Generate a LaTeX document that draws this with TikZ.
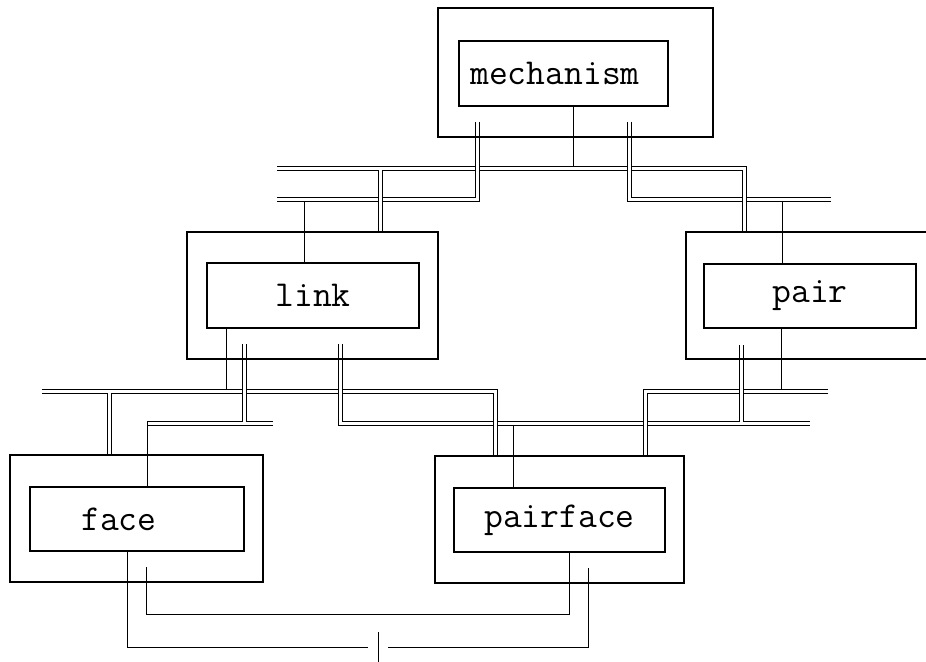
\documentclass[tikz,border=0pt]{standalone}
\usepackage{fontspec}
\pgfdeclarelayer{wires}
\pgfsetlayers{wires,main}
\begin{document}
\begin{tikzpicture}[x=0.02cm, y=-0.02cm, line width=1pt,
    shell/.style={rectangle, draw, minimum width=#1, minimum height=2.54cm, inner sep=0pt},
    entity/.style={rectangle, draw, minimum width=#1, minimum height=1.28cm, inner sep=0pt,
        font={\ttfamily\fontsize{20.8}{24}\selectfont}},
    bus/.style={double, double distance=1.83pt}
]
    \useasboundingbox (0,0) rectangle (926,662);
    \clip (0,0) rectangle (926,662);

    \node[shell=5.5cm, minimum height=2.58cm] (mechanismbox) at (575.5,72.5) {};
    \node[entity=4.18cm, minimum height=1.3cm] (mechanism) at (563.5,73.5) {mechanism\kern9.7pt};
    \node[shell=5.02cm] (linkbox) at (312.5,295.5) {};
    \node[entity=4.24cm, minimum height=1.3cm] (link) at (313,295.5) {link};
    \node[shell=4.96cm] (pairbox) at (810,295.5) {};
    \node[entity=4.24cm] (pair) at (810,296) {pair};
    \node[shell=5.06cm] (facebox) at (136.5,518.5) {};
    \node[entity=4.28cm] (face) at (137,519) {face\kern20.5pt};
    \node[shell=4.98cm] (pairfacebox) at (559.5,519.5) {};
    \node[entity=4.22cm] (pairface) at (559.5,520) {pairface};

    % bus ends
    \coordinate (a) at (277,168.5);
    \coordinate (bl) at (277,199.5);
    \coordinate (br) at (831,199.5);
    \coordinate (c) at (42,391.5);
    \coordinate (dl) at (147,423.5);
    \coordinate (dr) at (273,423.5);
    \coordinate (e) at (828,391.5);
    \coordinate (f) at (810,423.5);
    % stubs inside the outer boxes
    \coordinate (m1) at (477.5,122);
    \coordinate (m2) at (629.5,122);
    \coordinate (l1) at (244.5,344);
    \coordinate (l2) at (340.5,344);
    \coordinate (p1) at (741.5,345);
    \coordinate (f1) at (146,567);
    \coordinate (pf1) at (588,568);
    \coordinate (k) at (569,614.5);
    \coordinate (g1) at (368,647);
    \coordinate (g2) at (388,647);
    \coordinate (t) at (378,632);

    \begin{pgfonlayer}{wires}
    % single lines into the buses
    \draw (mechanism.south -| 573,0) -- (573,0 |- a);
    \draw (link.north -| 304,0) -- (304,0 |- bl);
    \draw (pair.north -| 782,0) -- (782,0 |- br);
    \draw (link.south -| 226,0) -- (226,0 |- c);
    \draw (pair.south -| 781,0) -- (781,0 |- e);
    \draw (pairface.north -| 513,0) -- (513,0 |- f);

    % double lines
    \draw[bus] (a) -- (744.5,0 |- a) -- (744.5,0 |- pairbox.north)
        (380.5,0 |- a) -- (380.5,0 |- linkbox.north);
    \draw[bus] (m1) -- (m1 |- bl) -- (bl);
    \draw[bus] (m2) -- (m2 |- br) -- (br);
    \draw[bus] (c) -- (495.5,0 |- c) -- (495.5,0 |- pairfacebox.north)
        (109.5,0 |- c) -- (109.5,0 |- facebox.north);
    \draw[bus] (l1) -- (l1 |- dl) (dl) -- (dr);
    \draw[bus] (l2) -- (l2 |- f) -- (f) (p1) -- (p1 |- f);
    \draw[bus] (e) -- (645.5,0 |- e) -- (645.5,0 |- pairfacebox.north);
    % crossings
    \foreach \x/\y in {477.5/168.5, 629.5/168.5, 380.5/199.5, 744.5/199.5, 244.5/391.5,
        340.5/391.5, 741.5/391.5, 495.5/423.5, 645.5/423.5}
        \draw[bus] (\x,\y-9) -- (\x,\y+9);

    \draw ([yshift=1.42pt]dl) -- (dl |- face.north);

    % bottom
    \draw (face.south -| 127,0) |- (g1);
    \draw (f1) |- (k) -- (k |- pairface.south);
    \draw (pf1) |- (g2);
    \draw (t) -- ++(0,30);
    \end{pgfonlayer}
\end{tikzpicture}
\end{document}
